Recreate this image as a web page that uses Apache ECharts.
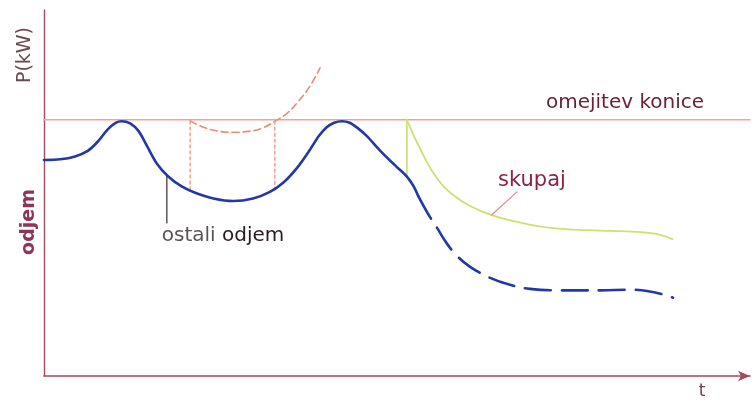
<!DOCTYPE html>
<html>
<head>
<meta charset="utf-8">
<script src="https://cdn.jsdelivr.net/npm/echarts@6/dist/echarts.min.js"></script>
<style>html,body{margin:0;padding:0;background:#fff}#c{width:756px;height:403px}</style>
</head>
<body>
<div id="c"></div>
<script>
// t (0-100), P (0-100) — arbitrary units
const limitLevel = 70;
const ostaliSolid = [[0,59.0],[2.3,59.2],[4.4,60.0],[6.2,61.5],[7.6,64.0],[9.0,67.3],[10.2,69.2],[11.0,69.6],[12.2,69.0],[13.4,66.9],[14.6,62.8],[16.0,58.0],[17.6,54.5],[19.5,51.8],[21.5,50.0],[24.0,48.5],[26.8,47.8],[29.6,48.5],[32.0,50.3],[34.0,53.0],[35.9,57.0],[37.6,61.6],[38.9,65.5],[40.0,67.9],[41.1,69.2],[42.2,69.6],[43.3,69.2],[44.4,67.8],[45.7,65.6],[47.6,61.6],[49.7,57.6],[51.4,54.5],[52.3,52.0],[53.0,49.2]];
const ostaliDashed = [[53.0,49.2],[54.4,44.3],[55.7,40.4],[57.1,36.1],[58.5,32.8],[60.3,29.9],[63.2,26.8],[66.0,24.9],[68.8,23.8],[73.1,23.4],[78.8,23.4],[83.0,23.6],[85.8,23.1],[88.0,22.1],[89.1,21.4]];
const skupaj = [[51.4,70],[53.5,61.2],[55.8,53.6],[58.0,49.4],[60.5,46.3],[63.5,43.9],[67.5,41.9],[72.1,40.4],[78.8,39.7],[84.0,39.4],[86.7,38.8],[89.0,37.4]];
const skupajStep = [[51.4,70],[51.4,54.5]];
const presezek = [[20.7,69.7],[22.3,68.2],[24.4,67.0],[26.8,66.6],[29.2,66.9],[31.1,67.9],[32.7,69.6],[34.5,71.9],[36.0,75.0],[37.6,79.0],[39.1,84.2]];
const presezekLeft = [[20.7,69.7],[20.7,50.8]];
const presezekRight = [[32.7,69.6],[32.7,50.5]];
const leaderOstali = [[17.4,54.6],[17.4,41.8]];
const leaderSkupaj = [[67.0,50.3],[63.4,44.0]];
const limitLine = [[0,limitLevel],[100,limitLevel]];

const chart = echarts.init(document.getElementById('c'));
const F = '"DejaVu Sans", sans-serif';
function ln(data, color, width, type, smooth, z) {
  return {type:'line', data:data, showSymbol:false, symbol:'none', smooth:smooth||false, z:z||2,
    lineStyle:{color:color, width:width, type:type||'solid', cap:'round', join:'round'}, silent:true, animation:false};
}
chart.setOption({
  animation:false,
  grid:{left:44, right:6, top:10, bottom:27},
  xAxis:{type:'value', min:0, max:100, splitLine:{show:false}, axisTick:{show:false}, axisLabel:{show:false},
    axisLine:{show:true, symbol:['none','arrow'], symbolSize:[8,12], lineStyle:{color:'#a24a5e', width:1.6}}},
  yAxis:{type:'value', min:0, max:100, splitLine:{show:false}, axisTick:{show:false}, axisLabel:{show:false},
    axisLine:{show:true, lineStyle:{color:'#a24a5e', width:1.4}}},
  series:[
    ln(limitLine, '#f2a49c', 1.5, 'solid', false, 1),
    ln(presezek, '#ec8a78', 1.6, [7,4], 0.5, 2),
    ln(presezekLeft, '#ee9a8a', 1.4, [3,3], false, 2),
    ln(presezekRight, '#ee9a8a', 1.4, [3,3], false, 2),
    ln(skupajStep, '#bfdc6a', 1.5, 'solid', false, 3),
    ln(skupaj, '#cbe170', 1.8, 'solid', 0.5, 3),
    ln(ostaliSolid, '#2338a8', 2.6, 'solid', 0.3, 4),
    ln(ostaliDashed, '#2338a8', 2.6, [26,11], 0.4, 4),
    ln(leaderOstali, '#3a2a30', 1.2, 'solid', false, 3),
    ln(leaderSkupaj, '#e08a94', 1.2, 'solid', false, 3)
  ],
  graphic:[
    {type:'text', x:25, y:55, rotation:Math.PI/2, style:{text:'P(kW)', font:'19px '+F, fill:'#6a4a4e', align:'center', verticalAlign:'middle'}},
    {type:'text', x:29, y:222, rotation:Math.PI/2, style:{text:'odjem', font:'bold 19px '+F, fill:'#8e3456', align:'center', verticalAlign:'middle'}},
    {type:'text', x:625, y:103, style:{text:'omejitev konice', font:'20px '+F, fill:'#6a2236', align:'center', verticalAlign:'middle'}},
    {type:'text', x:532, y:181, style:{text:'skupaj', font:'21px '+F, fill:'#8a2545', align:'center', verticalAlign:'middle'}},
    {type:'text', x:223, y:236, style:{text:'{a|ostali} {b|odjem}', font:'20px '+F, align:'center', verticalAlign:'middle',
      rich:{a:{font:'20px '+F, fill:'#5a5458'}, b:{font:'20px '+F, fill:'#2a1a22'}}}},
    {type:'text', x:702, y:392, style:{text:'t', font:'17px '+F, fill:'#70404e', align:'center', verticalAlign:'middle'}}
  ]
});
</script>
</body>
</html>
